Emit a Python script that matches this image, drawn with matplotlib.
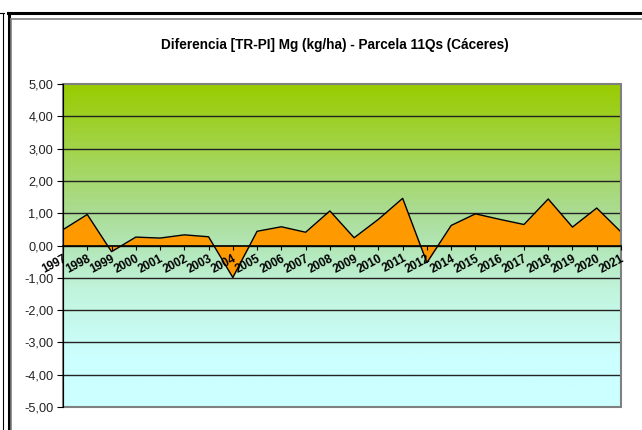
import matplotlib
matplotlib.use("Agg")
import matplotlib.pyplot as plt
import numpy as np
from matplotlib.colors import LinearSegmentedColormap
from matplotlib.lines import Line2D
from matplotlib.patches import Rectangle

years = ["1997", "1998", "1999", "2000", "2001", "2002", "2003", "2004",
         "2005", "2006", "2007", "2008", "2009", "2010", "2011", "2012",
         "2014", "2015", "2016", "2017", "2018", "2019", "2020", "2021"]
diff_mg = [0.49, 0.96, -0.19, 0.26, 0.23, 0.33, 0.27, -0.99,
           0.44, 0.58, 0.41, 1.07, 0.24, 0.81, 1.46, -0.53,
           0.62, 0.98, 0.81, 0.65, 1.44, 0.57, 1.16, 0.42]
y_ticks = [5, 4, 3, 2, 1, 0, -1, -2, -3, -4, -5]
y_labels = ["5,00", "4,00", "3,00", "2,00", "1,00", "0,00",
            "-1,00", "-2,00", "-3,00", "-4,00", "-5,00"]
title = "Diferencia [TR-PI] Mg (kg/ha) - Parcela 11Qs (Cáceres)"

W, H = 642, 430
plt.rcParams['font.family'] = ['Liberation Sans', 'DejaVu Sans']

fig = plt.figure(figsize=(W / 100, H / 100), dpi=100)
ax = fig.add_axes([63 / W, 1 - 407 / H, (621 - 63) / W, (407 - 84) / H])

x = np.arange(len(years))
ax.set_xlim(0, len(years) - 1)
ax.set_ylim(-5, 5)

# gradient background of the plot area
cmap = LinearSegmentedColormap.from_list(
    "bg", [(0.0, "#ccffff"), (0.15, "#ccffff"), (0.35, "#c2f5de"),
           (0.5, "#b2e6b6"), (0.6, "#abdc95"), (1.0, "#99cc00")])
grad = np.linspace(0, 1, 256).reshape(-1, 1)
ax.imshow(grad, cmap=cmap, origin="lower", aspect="auto",
          extent=[0, len(years) - 1, -5, 5], zorder=0)

for yv in range(-4, 5):
    ax.axhline(yv, color="#222222", lw=1, zorder=1)

ax.fill_between(x, diff_mg, 0, color="#ff9900", zorder=2, lw=0)
ax.plot(x, diff_mg, color="black", lw=1, zorder=3)

# frame of the plot area
ax.add_patch(Rectangle((0, 0), 1, 1, transform=ax.transAxes, fill=False,
                       edgecolor="#808080", lw=1.5, zorder=4, clip_on=False))
for s in ["top", "right"]:
    ax.spines[s].set_visible(False)
ax.spines["left"].set_color("black")
ax.spines["left"].set_zorder(5)
ax.spines["bottom"].set_position(("data", 0))
ax.spines["bottom"].set_color("black")
ax.spines["bottom"].set_linewidth(1.2)
ax.spines["bottom"].set_zorder(5)
ax.xaxis.set_zorder(6)
ax.yaxis.set_zorder(6)

ax.set_yticks(y_ticks)
ax.set_yticklabels(y_labels)
ax.tick_params(axis="y", direction="out", length=4, labelsize=9.2, pad=3,
               labelcolor="#222222")
ax.set_xticks(x)
ax.set_xticklabels(years, rotation=28, ha="right", va="top",
                   rotation_mode="anchor", fontweight="bold")
ax.tick_params(axis="x", direction="out", length=3, labelsize=8.5, pad=2)

fig.text(335 / W, 1 - 45 / H, title, ha="center", va="center",
         fontsize=9.8, fontweight="bold")

# sheet cell borders around the chart
def hline(y, x0, x1, c, lw):
    fig.add_artist(Line2D([x0 / W, x1 / W], [1 - y / H, 1 - y / H],
                          color=c, lw=lw))

def vline(xp, y0, y1, c, lw):
    fig.add_artist(Line2D([xp / W, xp / W], [1 - y0 / H, 1 - y1 / H],
                          color=c, lw=lw))

hline(13, 0, 3.5, "black", 0.8)
vline(3, 13, H, "black", 0.8)
hline(13, 7.5, W, "black", 2.2)
vline(8.5, 13, H, "black", 2.2)
hline(18.5, 11, W, "#808080", 1.2)
vline(11.5, 18.5, H, "#808080", 1.2)

fig.savefig("out.png", dpi=100)
